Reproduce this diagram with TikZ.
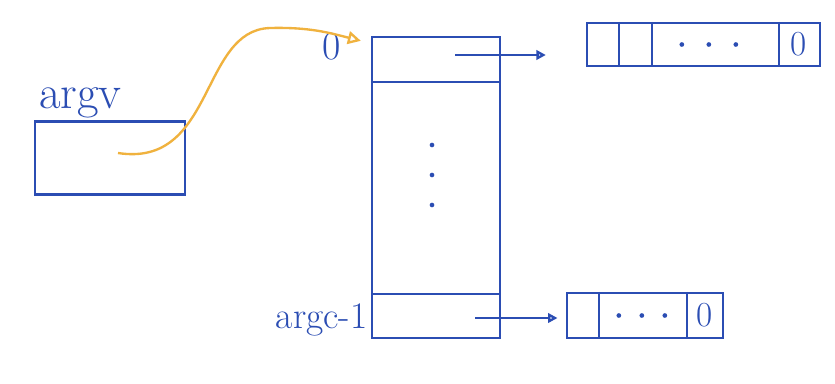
\documentclass[tikz,border=0pt]{standalone}
\usepackage{tikz}
\usetikzlibrary{arrows.meta}
\definecolor{penBlue}{HTML}{2B4DB3}
\definecolor{penOrange}{HTML}{F0B23E}

\tikzset{
  pen/.style={draw=penBlue, line width=2pt},
  cellbox/.style={pen, minimum width=#1, inner sep=0pt},
  handtext/.style={text=penBlue, font=\fontsize{#1}{#1}\selectfont, inner sep=0pt},
  ptr/.style={penBlue, line width=2pt, -{Triangle[open, length=8pt, width=8pt]}},
}

\begin{document}
\begin{tikzpicture}[x=0.03cm, y=-0.03cm]
  \useasboundingbox[fill=white] (0,0) rectangle (835,383);
  % argv variable
  \node[cellbox=4.5cm, minimum height=2.19cm] (argvbox) at (110,158) {};
  \node[handtext=40, anchor=south west] (argvlbl) at ([xshift=0.15cm, yshift=0.05cm]argvbox.north west) {argv};
  % array of pointers
  \node[cellbox=3.84cm, minimum height=9.03cm] (arr) at (436,187.5) {};
  \draw[pen] ([yshift=-1.38cm]arr.north west) -- ([yshift=-1.38cm]arr.north east);
  \draw[pen] ([yshift=1.35cm]arr.south west) -- ([yshift=1.35cm]arr.south east);
  \foreach \dy in {145,175,205}
    \fill[penBlue] (432,\dy) circle (2pt);
  \node[handtext=34, anchor=east] (idxfirst) at ([xshift=-0.9cm]arr.west |- 0,47) {0};
  \node[handtext=32, anchor=east] (idxlast) at ([xshift=-0.1cm]arr.west |- 0,320) {argc-1};
  % strings
  \node[cellbox=6.99cm, minimum height=1.29cm] (strfirst) at (703.5,44.5) {};
  \foreach \dx in {0.99,1.98,5.79}
    \draw[pen] ([xshift=\dx cm]strfirst.north west) -- ([xshift=\dx cm]strfirst.south west);
  \foreach \dx in {2.88,3.69,4.5}
    \fill[penBlue] ([xshift=\dx cm]strfirst.west) circle (2pt);
  \node[handtext=30] at ([xshift=6.39cm]strfirst.west) {0};
  \node[cellbox=4.68cm, minimum height=1.35cm] (strlast) at (645,315.5) {};
  \foreach \dx in {0.99,3.63}
    \draw[pen] ([xshift=\dx cm]strlast.north west) -- ([xshift=\dx cm]strlast.south west);
  \foreach \dx in {1.59,2.28,2.97}
    \fill[penBlue] ([xshift=\dx cm]strlast.west) circle (2pt);
  \node[handtext=30] at ([xshift=4.17cm]strlast.west) {0};
  % pointers
  \coordinate (argvsrc) at (118,153);
  \coordinate (arrtip) at ([xshift=-0.3cm, yshift=-0.15cm]arr.north west);
  \draw[penOrange, line width=2pt, -{Triangle[open, length=11pt, width=11pt]}]
    (argvsrc) .. controls (215,168) and (200,30) .. (270,28) .. controls (310,27) and (330,33) .. (arrtip);
  \coordinate (firstsrc) at (455,55);
  \coordinate (lastsrc) at (475,318);
  \draw[ptr, shorten >=1.2cm] (firstsrc) -- (strfirst.west |- firstsrc);
  \draw[ptr, shorten >=0.25cm] (lastsrc) -- (strlast.west |- lastsrc);
\end{tikzpicture}
\end{document}
